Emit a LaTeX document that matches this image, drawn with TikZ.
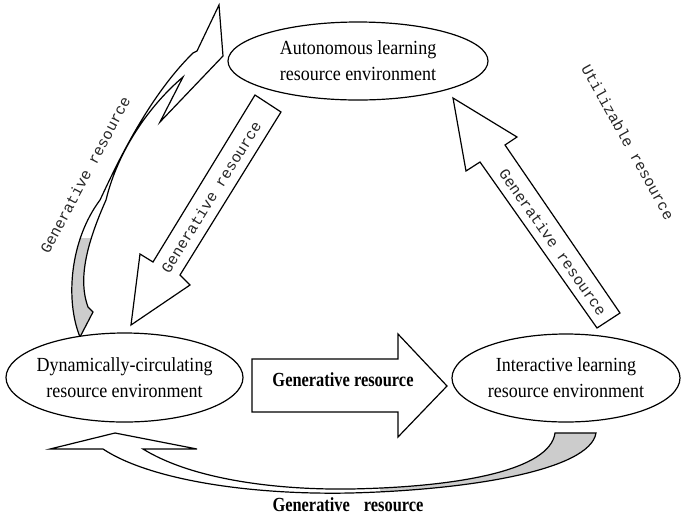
\documentclass[tikz,border=0pt]{standalone}
\usepackage{fontspec}
\setmainfont{Liberation Serif}
\newfontfamily\envfont[FakeStretch=0.9]{Liberation Serif}
\newfontfamily\midfont[FakeStretch=0.82]{Liberation Serif}
\newfontfamily\labfont{Liberation Mono}
\usetikzlibrary{shapes.geometric}

\definecolor{tailgray}{gray}{0.8}
\tikzstyle{env}=[ellipse, draw, line width=0.9pt, fill=white, align=center, inner xsep=-12pt, inner ysep=0pt, font=\envfont\fontsize{15}{19.5}\selectfont]
\tikzstyle{blockarrow}=[draw, line width=0.9pt, fill=white, line join=miter]
\tikzstyle{ribbon}=[draw, line width=0.9pt, fill=white, line join=miter]
\tikzstyle{rotlabel}=[font=\labfont\fontsize{11.5}{13}\selectfont, text=black!85, inner sep=0pt]
\tikzstyle{boldlabel}=[font=\midfont\bfseries\fontsize{15}{18}\selectfont, inner sep=0pt]

\begin{document}
\begin{tikzpicture}[x=0.75pt, y=-0.75pt]
\useasboundingbox (0,0) rectangle (682,519);

\draw[ribbon, path picture={\fill[tailgray] (0,238) rectangle (250,350);}]
  (80,337) .. controls (65,300) and (70,240) .. (100,200)
  .. controls (112,175) and (145,100) .. (193,53) -- (197,51) -- (219,5)
  -- (223,56) -- (160,122) -- (183,77)
  .. controls (150,105) and (118,150) .. (106,200)
  .. controls (86,245) and (78,280) .. (88,307) -- (93,312) -- cycle;

\draw[ribbon, path picture={\fill[tailgray] (380,420) rectangle (682,500);}]
  (103,449) .. controls (150,480) and (250,495) .. (350,493)
  .. controls (470,490) and (590,470) .. (596,433) -- (555,433)
  .. controls (550,470) and (460,487) .. (350,489)
  .. controls (270,490) and (190,478) .. (143,449)
  -- (197,449) -- (115,433) -- (50,449) -- cycle;

\node[env, minimum width=195pt, minimum height=58.5pt](auto) at (358,61) {Autonomous learning\\resource environment};
\node[env, minimum width=177.75pt, minimum height=66.75pt](dyn) at (124.5,377.5) {Dynamically-circulating\\resource environment};
\node[env, minimum width=171pt, minimum height=66pt](inter) at (566,378) {Interactive learning\\resource environment};

\draw[blockarrow] (252,359) -- (398,359) -- (398,334) -- (447,386) -- (398,437) -- (398,412) -- (252,412) -- cycle;
\draw[blockarrow] (255,95) -- (281,112) -- (180,275) -- (190,285) -- (131,325) -- (140,254) -- (153,262) -- cycle;
\draw[blockarrow] (453,98) -- (517,137) -- (505,145) -- (620,313) -- (597,328) -- (480,162) -- (466,171) -- cycle;

\node[rotlabel, rotate=62](genleft) at (85,175) {Generative resource};
\node[rotlabel, rotate=58](gendown) at (211,197) {Generative resource};
\node[rotlabel, rotate=-55](genup) at (553,242) {Generative resource};
\node[rotlabel, rotate=-61](utilizable) at (628,142) {Utilizable resource};
\node[boldlabel](genmid) at (343,380) {Generative resource};
\node[boldlabel](genbottom) at (348,505) {Generative\hspace{0.7em}resource};
\end{tikzpicture}
\end{document}
